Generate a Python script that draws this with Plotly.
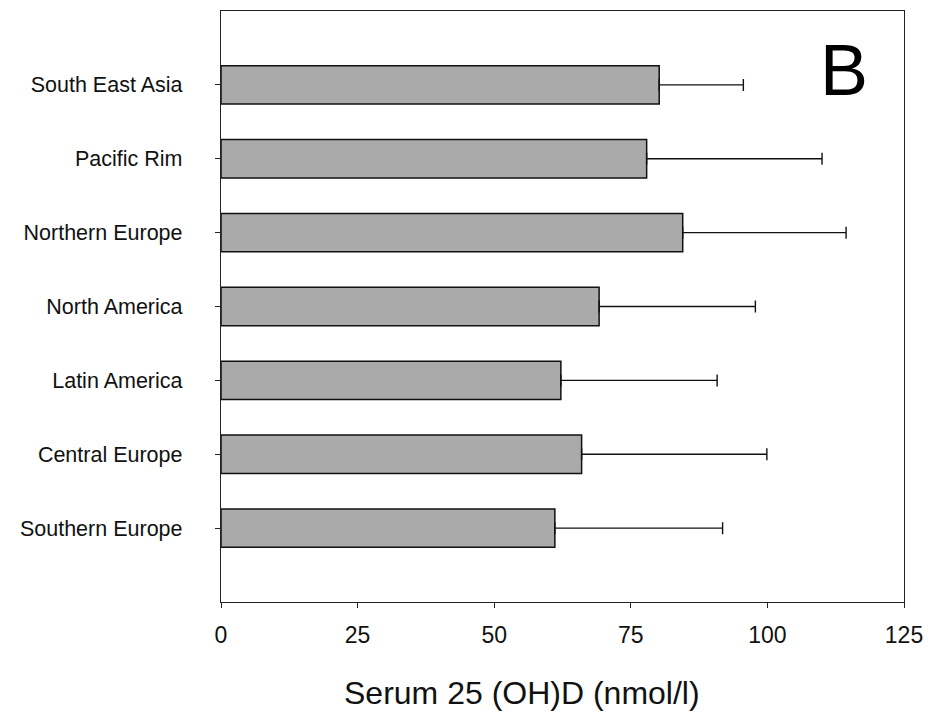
import plotly.graph_objects as go

regions = ["South East Asia", "Pacific Rim", "Northern Europe", "North America",
           "Latin America", "Central Europe", "Southern Europe"]
means = [80.2, 77.9, 84.5, 69.2, 62.2, 66.0, 61.1]
sds = [15.4, 32.1, 29.9, 28.6, 28.6, 33.9, 30.7]
xticks = [0, 25, 50, 75, 100, 125]

# plot bottom-to-top
cats = regions[::-1]
vals = means[::-1]
errs = sds[::-1]

fig = go.Figure()
fig.add_trace(go.Bar(
    y=cats, x=vals, orientation="h", width=0.52,
    marker=dict(color="#aaaaaa", line=dict(color="#111111", width=1.5)),
    error_x=dict(type="data", array=errs, arrayminus=[0]*len(errs), symmetric=False,
                 color="#111111", thickness=1.4, width=6),
))

fig.add_annotation(text="B", x=0.912, y=0.901, xref="paper", yref="paper",
                   showarrow=False, font=dict(size=72, color="#000000",
                                              family="Liberation Sans, Arial"),
                   xanchor="center", yanchor="middle")

# x-axis title (offset to the left as in the original)
fig.add_annotation(text="Serum 25 (OH)D (nmol/l)", x=0.441, y=-0.154,
                   xref="paper", yref="paper", showarrow=False,
                   font=dict(size=32, color="#111111", family="Liberation Sans, Arial"),
                   xanchor="center", yanchor="middle")

fig.update_layout(
    width=928, height=707,
    margin=dict(l=213, r=32, t=3, b=113),
    plot_bgcolor="white", paper_bgcolor="white",
    font=dict(family="Liberation Sans, Arial", color="#111111"),
    showlegend=False,
    xaxis=dict(range=[0, 125], tickvals=xticks,
               showline=True, linecolor="#222222", linewidth=1.4, mirror=True,
               ticks="outside", ticklen=5, tickcolor="#222222",
               showgrid=False, zeroline=False,
               tickfont=dict(size=23), ticklabelstandoff=7),
    yaxis=dict(categoryorder="array", categoryarray=cats, range=[-1, 7],
               showline=True, linecolor="#222222", linewidth=1.4, mirror=True,
               ticks="outside", ticklen=5, tickcolor="#222222",
               showgrid=False, zeroline=False,
               tickfont=dict(size=21.5), ticklabelstandoff=28),
)

fig.write_html("out.html")
